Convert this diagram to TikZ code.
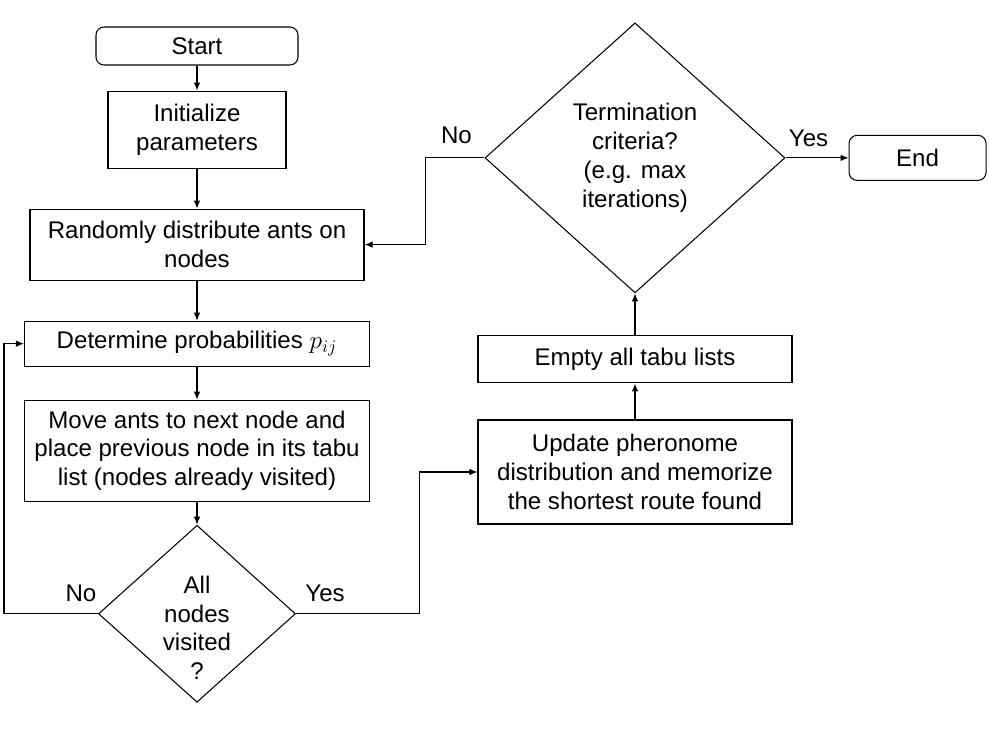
\documentclass[tikz,border=0pt]{standalone}
\usepackage{fontspec}
\setmainfont{Liberation Sans}
\usetikzlibrary{positioning,shapes.geometric,arrows.meta}
\begin{document}
\begin{tikzpicture}[font=\fontsize{13.7}{16.4}\selectfont,
	box/.style={draw, rectangle, align=center, inner sep=0pt, line width=0.6pt},
	startstop/.style={box, rounded corners=0.16cm},
	decision/.style={draw, diamond, align=center, inner sep=0pt, line width=0.6pt},
	arr/.style={line width=0.6pt, -{Latex[length=1.6mm,width=1.3mm]}},
	lbl/.style={inner sep=0pt}]
	\useasboundingbox (0,0) rectangle (19.78,-14.62);
	
	\node (start) [startstop, minimum width=4.04cm, minimum height=0.76cm] at (3.94,-0.92) {Start};
	\node (init) [box, below=0.5cm of start, minimum width=3.56cm, minimum height=1.54cm] {Initialize\\parameters};
	\node (random) [box, below=0.8cm of init, minimum width=6.68cm, minimum height=1.42cm] {Randomly distribute ants on\\nodes};
	\node (prob) [box, below=0.8cm of random, minimum width=6.9cm, minimum height=0.9cm] {Determine probabilities $p_{ij}$};
	\node (move) [box, below=0.66cm of prob, minimum width=6.9cm, minimum height=2.02cm] {Move ants to next node and\\place previous node in its tabu\\list (nodes already visited)};
	\node (visited) [decision, below=0.46cm of move, minimum width=3.94cm, minimum height=3.54cm,
		label={[align=center, yshift=-0.28cm]center:All\\nodes\\visited\\?}] {};
	
	\node (update) [box, minimum width=6.28cm, minimum height=2.08cm] at (12.7,-9.44) {Update pheronome\\distribution and memorize\\the shortest route found};
	\node (empty) [box, above=0.72cm of update, minimum width=6.28cm, minimum height=0.94cm] {Empty all tabu lists};
	\node (crit) [decision, above=0.84cm of empty, minimum width=6cm, minimum height=5.4cm] {Termination\\criteria?\\(e.g. max\\iterations)};
	\node (fin) [startstop, right=1.26cm of crit, minimum width=2.74cm, minimum height=0.9cm] {End};
	
	\draw[arr] (start) -- (init);
	\draw[arr] (init) -- (random);
	\draw[arr] (random) -- (prob);
	\draw[arr] (prob) -- (move);
	\draw[arr] (move) -- (visited);
	\draw[arr] (visited.west) -| ([xshift=-0.4cm]prob.west) -- (prob.west);
	\draw[arr] (visited.east) -| ([xshift=-1.16cm]update.west) -- (update.west);
	\draw[arr] (update) -- (empty);
	\draw[arr] (empty) -- (crit);
	\draw[arr] (crit.west) -| ([xshift=1.22cm]random.east) -- (random.east);
	\draw[arr] (crit.east) -- (fin);
	
	\node[lbl] at ([xshift=-0.34cm, yshift=0.4cm]visited.west) {No};
	\node[lbl] at ([xshift=0.58cm, yshift=0.4cm]visited.east) {Yes};
	\node[lbl] at ([xshift=-0.56cm, yshift=0.46cm]crit.west) {No};
	\node[lbl] at ([xshift=0.46cm, yshift=0.4cm]crit.east) {Yes};
\end{tikzpicture}
\end{document}
